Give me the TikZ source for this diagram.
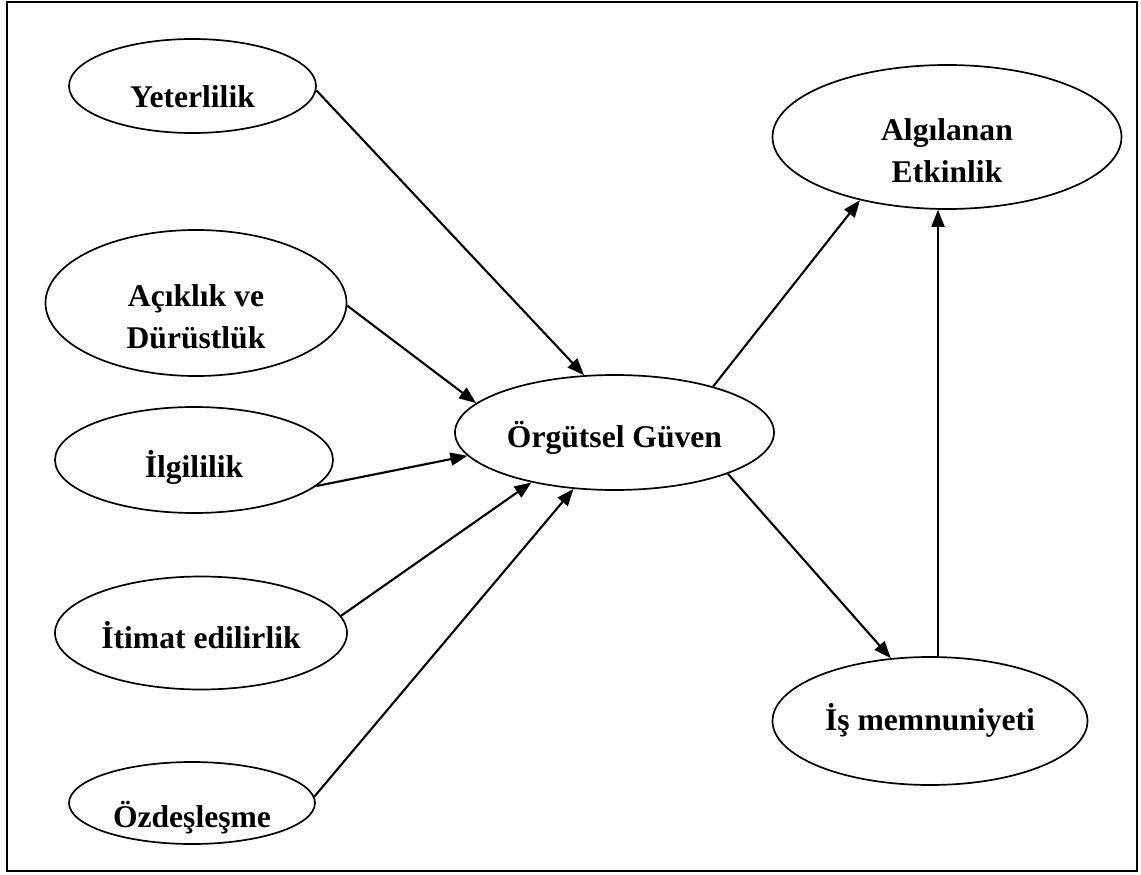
\documentclass[tikz,border=0pt]{standalone}
\usepackage{fontspec}
\setmainfont{Liberation Serif}
\usetikzlibrary{shapes.geometric,arrows.meta}
\begin{document}
\begin{tikzpicture}[x=1pt,y=-1pt,
  ell/.style={draw, ellipse, line width=1.7pt, inner sep=0pt},
  lbl/.style={font=\bfseries\fontsize{31.6pt}{42pt}\selectfont, inner sep=0pt, align=center},
  arr/.style={line width=2.1pt, -{Triangle[length=17pt,width=13pt]}}]
\useasboundingbox (0,0) rectangle (1141,875);
% outer frame
\draw[line width=2.4pt] (7,2) rectangle (1137,871);

% antecedents (left column)
\node[ell, minimum width=247pt, minimum height=94pt]  (yet) at (192.5,86) {};
\node[ell, minimum width=301pt, minimum height=146pt] (acik) at (196,303) {};
\node[ell, minimum width=278pt, minimum height=106pt] (ilg) at (194,460) {};
\node[ell, minimum width=292pt, minimum height=113pt] (itim) at (201,633) {};
\node[ell, minimum width=246pt, minimum height=82pt]  (ozd) at (192,803) {};

% central construct and outcomes
\node[ell, minimum width=319pt, minimum height=115pt] (og) at (614.5,432.5) {};
\node[ell, minimum width=349pt, minimum height=144pt] (alg) at (947,137) {};
\node[ell, minimum width=315pt, minimum height=128pt] (is) at (930,721) {};

% labels
\node[lbl, anchor=base] (yet-t) at (192.5,107) {Yeterlilik};
\node[lbl] (acik-t) at (196,317) {Açıklık ve\\Dürüstlük};
\node[lbl, anchor=base] (ilg-t) at (194,477) {İlgililik};
\node[lbl, anchor=base] (itim-t) at (201,648) {İtimat edilirlik};
\node[lbl, anchor=base] (ozd-t) at (192,827) {Özdeşleşme};
\node[lbl, anchor=base] (og-t) at (614.5,447) {Örgütsel Güven};
\node[lbl] (alg-t) at (947,151) {Algılanan\\Etkinlik};
\node[lbl, anchor=base] (is-t) at (930,730) {İş memnuniyeti};

% paths into organisational trust
\draw[arr] (yet.-2.8)  -- (og.118.3);
\draw[arr] (acik.-1.9) -- (og.168.7);
\draw[arr] (ilg.-12.1) -- (og.189.8);
\draw[arr] (itim.7.8)  -- (og.211.2);
\draw[arr] (ozd.3.7)   -- (og.234.7);

% paths to outcomes
\draw[arr] (og.25.3)  -- (alg.216.9);
\draw[arr] (og.-20.1) -- (is.122.9);
\coordinate (vline) at (938,0);
\draw[arr] (is.north -| vline) -- (alg.south -| vline);
\end{tikzpicture}
\end{document}
